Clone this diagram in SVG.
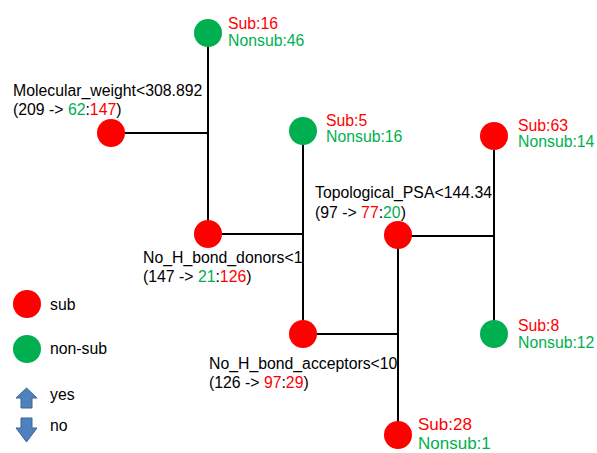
<svg xmlns="http://www.w3.org/2000/svg" width="597" height="453" viewBox="0 0 597 453">
<style>
.t{font-family:"Liberation Sans",Arial,sans-serif;font-size:15.8px;fill:#000}
.big{font-size:17px}
.r{fill:#ff0000}
.g{fill:#00b050}
.e{stroke:#000;stroke-width:2;fill:none}
.arr{fill:#4f81bd;stroke:#3a6595;stroke-width:1}
</style>
<rect width="597" height="453" fill="#fff"/>
<g id="connectors">
<line class="e" x1="111" y1="133" x2="208" y2="133"/>
<line class="e" x1="208" y1="33" x2="208" y2="234"/>
<line class="e" x1="208" y1="234" x2="303" y2="234"/>
<line class="e" x1="303" y1="131" x2="303" y2="334"/>
<line class="e" x1="303" y1="334" x2="398" y2="334"/>
<line class="e" x1="398" y1="235" x2="398" y2="435"/>
<line class="e" x1="398" y1="236" x2="494" y2="236"/>
<line class="e" x1="494" y1="136" x2="494" y2="334"/>
</g>
<g id="root">
<circle class="r" cx="111" cy="133" r="14"/>
<text class="t" x="13" y="96">Molecular_weight&lt;308.892</text>
<text class="t" x="13" y="115">(209 -&gt; <tspan class="g">62</tspan>:<tspan class="r">147</tspan>)</text>
</g>
<g id="leaf1">
<circle class="g" cx="208" cy="33" r="14"/>
<text class="t r" x="228" y="29">Sub:16</text>
<text class="t g" x="228" y="45.5">Nonsub:46</text>
</g>
<g id="donors">
<circle class="r" cx="208" cy="234" r="14"/>
<text class="t" x="143" y="263">No_H_bond_donors&lt;1</text>
<text class="t" x="143" y="282">(147 -&gt; <tspan class="g">21</tspan>:<tspan class="r">126</tspan>)</text>
</g>
<g id="leaf2">
<circle class="g" cx="303" cy="131" r="14"/>
<text class="t r" x="326" y="126">Sub:5</text>
<text class="t g" x="326" y="142">Nonsub:16</text>
</g>
<g id="acceptors">
<circle class="r" cx="303" cy="334" r="14"/>
<text class="t" x="209" y="369">No_H_bond_acceptors&lt;10</text>
<text class="t" x="209" y="388">(126 -&gt; <tspan class="r">97</tspan>:<tspan class="r">29</tspan>)</text>
</g>
<g id="psa">
<circle class="r" cx="398" cy="235" r="14"/>
<text class="t" x="315" y="198">Topological_PSA&lt;144.34</text>
<text class="t" x="315" y="218">(97 -&gt; <tspan class="r">77</tspan>:<tspan class="g">20</tspan>)</text>
</g>
<g id="leaf3">
<circle class="r" cx="494" cy="136" r="14"/>
<text class="t r" x="518" y="131">Sub:63</text>
<text class="t g" x="518" y="147">Nonsub:14</text>
</g>
<g id="leaf4">
<circle class="g" cx="494" cy="334" r="14"/>
<text class="t r" x="518" y="331">Sub:8</text>
<text class="t g" x="518" y="347.5">Nonsub:12</text>
</g>
<g id="leaf5">
<circle class="r" cx="398" cy="435" r="14"/>
<text class="t big r" x="418" y="430">Sub:28</text>
<text class="t big g" x="418" y="449">Nonsub:1</text>
</g>
<g id="legend">
<circle class="r" cx="27" cy="304" r="14"/>
<text class="t" x="50" y="310">sub</text>
<circle class="g" cx="27" cy="349" r="14"/>
<text class="t" x="50" y="354">non-sub</text>
<path class="arr" d="M26.5,388 L37,398 L32,398 L32,408 L21,408 L21,398 L16,398 Z"/>
<text class="t" x="50" y="400">yes</text>
<path class="arr" d="M21,418 L32,418 L32,428 L37,428 L26.5,442 L16,428 L21,428 Z"/>
<text class="t" x="50" y="431">no</text>
</g>
</svg>
